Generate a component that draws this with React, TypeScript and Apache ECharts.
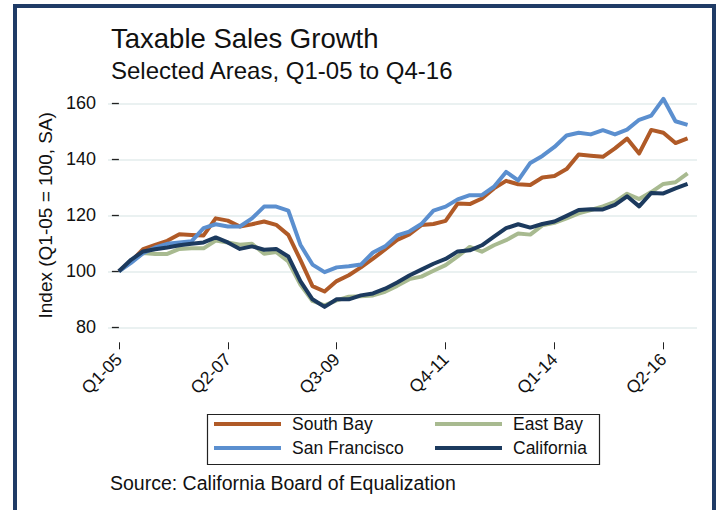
import React, { useEffect, useRef } from "react";
import * as echarts from "echarts";

const seriesNames = ["South Bay", "East Bay", "San Francisco", "California"];
const seriesColors = ["#b05a27", "#a8ba90", "#5b8fcf", "#1c3a5e"];

const southBay = [
  100, 103.5, 107.9, 109.4, 110.9, 113.2, 113.0, 112.8, 118.9, 118.1, 116.0, 116.8,
  117.8, 116.6, 113.0, 104.1, 94.7, 92.8, 96.5, 98.6, 101.4, 104.5, 107.8, 111.2,
  113.2, 116.5, 116.9, 118.0, 124.2, 124.0, 126.0, 129.6, 132.3, 131.1, 130.8, 133.5,
  134.0, 136.5, 141.7, 141.3, 140.9, 143.9, 147.4, 142.1, 150.5, 149.5, 145.8, 147.5,
];
const eastBay = [
  100, 103.5, 106.5, 106.2, 106.2, 108.0, 108.2, 108.2, 111.0, 110.3, 109.5, 109.8,
  106.3, 106.9, 103.5, 95.3, 89.4, 87.8, 89.6, 90.9, 91.1, 91.4, 92.7, 94.8,
  97.2, 98.1, 100.2, 102.2, 105.3, 108.7, 107.0, 109.3, 111.1, 113.5, 113.1, 116.4,
  117.3, 118.9, 120.7, 121.9, 123.2, 124.8, 127.7, 125.8, 128.3, 131.2, 131.8, 135.0,
];
const sanFrancisco = [
  100, 103.0, 106.5, 108.5, 109.8, 110.3, 110.7, 115.4, 116.8, 116.0, 116.0, 118.9,
  123.1, 123.1, 121.7, 109.5, 102.4, 99.7, 101.4, 101.8, 102.4, 106.7, 108.9, 112.8,
  114.2, 116.9, 121.7, 123.1, 125.7, 127.2, 127.2, 130.2, 135.5, 132.5, 138.7, 141.2,
  144.4, 148.5, 149.5, 148.9, 150.4, 148.9, 150.6, 154.1, 155.6, 161.6, 153.6, 152.3,
];
const california = [
  100, 104.1, 107.1, 107.9, 108.5, 109.3, 109.8, 110.3, 112.1, 110.3, 108.0, 108.9,
  107.7, 108.0, 105.3, 96.5, 90.0, 87.3, 90.0, 90.0, 91.4, 92.1, 93.8, 96.0,
  98.5, 100.6, 102.7, 104.4, 107.1, 107.5, 109.3, 112.4, 115.4, 116.8, 115.6, 116.9,
  117.8, 119.8, 121.9, 122.2, 122.1, 123.7, 126.8, 123.2, 128.0, 127.8, 129.6, 131.2,
];
const allSeries = [southBay, eastBay, sanFrancisco, california];

const tickPositions = [0, 9, 18, 27, 36, 45];
const tickLabels = ["Q1-05", "Q2-07", "Q3-09", "Q4-11", "Q1-14", "Q2-16"];
const yTicks = [80, 100, 120, 140, 160];

const FONT = '"Liberation Sans", Arial, Helvetica, sans-serif';

export default function App() {
  const ref = useRef<HTMLDivElement>(null);
  useEffect(() => {
    document.body.style.margin = "0";
    if (!ref.current) return;
    const chart = echarts.init(ref.current, undefined, { renderer: "svg" });
    const option: any = {
      animation: false,
      backgroundColor: "#ffffff",
      textStyle: { fontFamily: FONT },
      grid: { left: 108, right: 22, top: 103.3, bottom: 182.7 },
      xAxis: {
        type: "value",
        min: -0.9,
        max: 47.78,
        offset: 15,
        axisLine: { show: false },
        splitLine: { show: false },
        axisTick: {
          show: true,
          length: 7,
          customValues: tickPositions,
          lineStyle: { color: "#222", width: 1 },
        },
        axisLabel: {
          customValues: tickPositions,
          rotate: 45,
          margin: 14,
          fontSize: 17.5,
          color: "#111",
          fontFamily: FONT,
          formatter: (v: number) => {
            const k = tickPositions.indexOf(Math.round(v));
            return k >= 0 ? tickLabels[k] : "";
          },
        },
      },
      yAxis: {
        type: "value",
        min: yTicks[0],
        max: yTicks[yTicks.length - 1],
        interval: 20,
        name: "Index (Q1-05 = 100, SA)",
        nameLocation: "middle",
        nameGap: 53,
        nameTextStyle: { fontSize: 19, color: "#111", fontFamily: FONT },
        axisLine: { show: false },
        axisTick: { show: true, length: 7, lineStyle: { color: "#222", width: 1.3 } },
        axisLabel: { margin: 12, fontSize: 18, color: "#111", fontFamily: FONT },
        splitLine: { show: true, lineStyle: { color: "#e3ecec", width: 1.5 } },
      },
      legend: [
        {
          data: [seriesNames[0], seriesNames[2]],
          orient: "vertical",
          left: 214,
          top: 414,
          padding: 0,
          itemGap: 4,
          itemWidth: 67,
          itemHeight: 4,
          icon: "rect",
          selectedMode: false,
          textStyle: { fontSize: 17.5, color: "#111", fontFamily: FONT, lineHeight: 20, padding: [0, 0, 0, 6] },
        },
        {
          data: [seriesNames[1], seriesNames[3]],
          orient: "vertical",
          left: 435,
          top: 414,
          padding: 0,
          itemGap: 4,
          itemWidth: 67,
          itemHeight: 4,
          icon: "rect",
          selectedMode: false,
          textStyle: { fontSize: 17.5, color: "#111", fontFamily: FONT, lineHeight: 20, padding: [0, 0, 0, 6] },
        },
      ],
      graphic: [
        {
          type: "rect",
          shape: { x: 15, y: 6, width: 699, height: 540 },
          style: { fill: "none", stroke: "#1f3b66", lineWidth: 4 },
          silent: true,
        },
        {
          type: "rect",
          shape: { x: 207.5, y: 414.5, width: 392, height: 50 },
          style: { fill: "none", stroke: "#222", lineWidth: 1.2 },
          silent: true,
        },
        {
          type: "text",
          style: {
            x: 111,
            y: 38,
            text: "Taxable Sales Growth",
            font: `27.5px ${FONT}`,
            fill: "#111",
            verticalAlign: "middle",
          },
        },
        {
          type: "text",
          style: {
            x: 111,
            y: 70.5,
            text: "Selected Areas, Q1-05 to Q4-16",
            font: `24px ${FONT}`,
            fill: "#111",
            verticalAlign: "middle",
          },
        },
        {
          type: "text",
          style: {
            x: 110,
            y: 483,
            text: "Source: California Board of Equalization",
            font: `19.5px ${FONT}`,
            fill: "#111",
            verticalAlign: "middle",
          },
        },
      ],
      series: seriesNames.map((name, k) => ({
        name,
        type: "line",
        data: allSeries[k].map((v, i) => [i, v]),
        showSymbol: false,
        symbol: "none",
        clip: false,
        color: seriesColors[k],
        itemStyle: { color: seriesColors[k] },
        lineStyle: { color: seriesColors[k], width: 4, join: "round" },
        z: 2 + k,
      })),
    };
    chart.setOption(option);
    return () => chart.dispose();
  }, []);
  return (
    <div
      ref={ref}
      style={{ position: "fixed", left: 0, top: 0, width: 719, height: 510 }}
    />
  );
}
